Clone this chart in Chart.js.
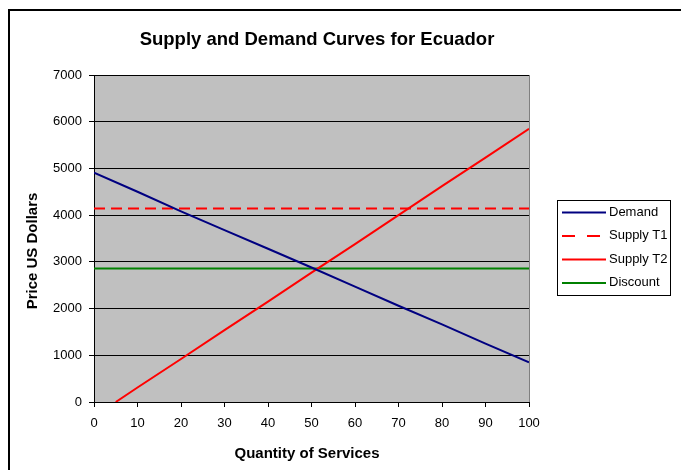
<!DOCTYPE html>
<html>
<head>
<meta charset="utf-8">
<script src="https://cdn.jsdelivr.net/npm/chart.js@4.4.1/dist/chart.umd.min.js"></script>
<style>
html,body{margin:0;padding:0;background:#fff;}
#wrap{position:relative;width:681px;height:470px;}
canvas{display:block;}
</style>
</head>
<body>
<div id="wrap"><canvas id="c" width="681" height="470"></canvas></div>
<script>
const chartTitle = "Supply and Demand Curves for Ecuador";
const xTitle = "Quantity of Services";
const yTitle = "Price US Dollars";
const seriesNames = ["Demand", "Supply T1", "Supply T2", "Discount"];

const demandX = [0, 10, 20, 30, 40, 50, 60, 70, 80, 90, 100];
const demandY = [4910, 4500, 4080, 3680, 3280, 2880, 2470, 2060, 1660, 1250, 850];

const supplyT1X = [0, 100];
const supplyT1Y = [4140, 4140];

const supplyT2X = [5, 10, 20, 30, 40, 50, 60, 70, 80, 90, 100];
const supplyT2Y = [0, 310, 920, 1540, 2150, 2770, 3380, 4000, 4620, 5230, 5850];

const discountX = [0, 100];
const discountY = [2860, 2860];

const xTicks = [0, 10, 20, 30, 40, 50, 60, 70, 80, 90, 100];
const yTicks = [0, 1000, 2000, 3000, 4000, 5000, 6000, 7000];

function pts(xs, ys){ return xs.map((x,i)=>({x:x, y:ys[i]})); }

const FONT = "'Liberation Sans', Arial, sans-serif";

const bgPlugin = {
  id: 'bg',
  beforeDraw(chart){
    const {ctx, chartArea:a} = chart;
    ctx.save();
    ctx.fillStyle = '#fff';
    ctx.fillRect(0,0,chart.width,chart.height);
    // outer frame
    ctx.strokeStyle = '#000';
    ctx.lineWidth = 2;
    ctx.beginPath();
    ctx.moveTo(9, chart.height+2);
    ctx.lineTo(9, 10);
    ctx.lineTo(chart.width+2, 10);
    ctx.stroke();
    ctx.fillStyle = '#c0c0c0';
    ctx.fillRect(a.left, a.top, a.right-a.left, a.bottom-a.top);
    ctx.restore();
  },
  afterDraw(chart){
    const {ctx, chartArea:a} = chart;
    ctx.save();
    ctx.strokeStyle = '#808080';
    ctx.lineWidth = 1;
    ctx.beginPath();
    ctx.moveTo(a.right+0.5, a.top);
    ctx.lineTo(a.right+0.5, a.bottom);
    ctx.stroke();
    // titles
    ctx.fillStyle = '#000';
    ctx.textAlign = 'center';
    ctx.textBaseline = 'middle';
    ctx.font = 'bold 18.5px ' + FONT;
    ctx.fillText(chartTitle, 317, 40);
    ctx.font = 'bold 15px ' + FONT;
    ctx.fillText(xTitle, 307, 454);
    ctx.save();
    ctx.translate(33, 251);
    ctx.rotate(-Math.PI/2);
    ctx.fillText(yTitle, 0, 0);
    ctx.restore();
    // legend
    const lx = 557, ly = 200, lw = 113, lh = 95;
    ctx.fillStyle = '#fff';
    ctx.fillRect(lx, ly, lw, lh);
    ctx.strokeStyle = '#000';
    ctx.lineWidth = 1;
    ctx.strokeRect(lx+0.5, ly+0.5, lw, lh);
    ctx.font = '13px ' + FONT;
    ctx.textAlign = 'left';
    ctx.textBaseline = 'middle';
    chart.data.datasets.forEach((ds, i) => {
      const y = ly + 12 + i*23.5;
      ctx.strokeStyle = ds.borderColor;
      ctx.lineWidth = 2;
      ctx.setLineDash(ds.borderDash ? [13, 12] : []);
      ctx.beginPath();
      ctx.moveTo(lx+5, y+0.5);
      ctx.lineTo(lx+49, y+0.5);
      ctx.stroke();
      ctx.setLineDash([]);
      ctx.fillStyle = '#000';
      ctx.fillText(ds.label, lx+52, y);
    });
    ctx.restore();
  }
};

new Chart(document.getElementById('c'), {
  type: 'line',
  data: {
    datasets: [
      {label: seriesNames[0], data: pts(demandX, demandY), borderColor: '#000080', borderWidth: 2},
      {label: seriesNames[1], data: pts(supplyT1X, supplyT1Y), borderColor: '#ff0000', borderWidth: 2, borderDash: [11, 6]},
      {label: seriesNames[2], data: pts(supplyT2X, supplyT2Y), borderColor: '#ff0000', borderWidth: 2},
      {label: seriesNames[3], data: pts(discountX, discountY), borderColor: '#008000', borderWidth: 2}
    ]
  },
  options: {
    responsive: false,
    animation: false,
    devicePixelRatio: 1,
    elements: { point: { radius: 0 }, line: { tension: 0 } },
    layout: { padding: { left: 10, right: 152, top: 75, bottom: 0 } },
    plugins: {
      legend: { display: false },
      tooltip: { enabled: false },
      title: { display: false }
    },
    scales: {
      x: {
        type: 'linear', min: 0, max: 100,
        afterBuildTicks(s){ s.ticks = xTicks.map(v=>({value:v})); },
        afterFit(s){ s.height = 68; },
        grid: { drawOnChartArea: false, color: '#000', tickLength: 5, tickColor: '#000' },
        border: { color: '#000', width: 1 },
        ticks: { color: '#000', font: { family: FONT, size: 13 }, padding: 9, maxRotation: 0, callback: v => String(v) }
      },
      y: {
        type: 'linear', min: 0, max: 7000,
        afterBuildTicks(s){ s.ticks = yTicks.map(v=>({value:v})); },
        afterFit(s){ s.width = 84; },
        grid: { color: '#000', tickLength: 5, tickColor: '#000' },
        border: { color: '#000', width: 1 },
        ticks: { color: '#000', font: { family: FONT, size: 13 }, padding: 7, callback: v => String(v) }
      }
    }
  },
  plugins: [bgPlugin]
});
</script>
</body>
</html>
